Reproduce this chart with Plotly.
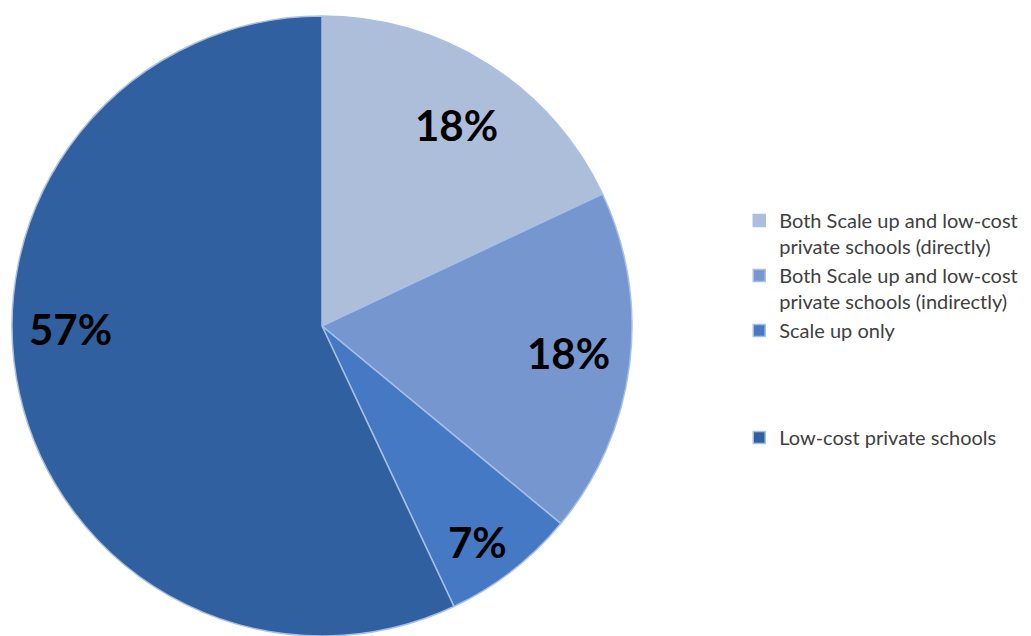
import math
import plotly.graph_objects as go

# Share of respondents by type of work
categories = [
    "Both Scale up and low-cost<br>private schools (directly)",
    "Both Scale up and low-cost<br>private schools (indirectly)",
    "Scale up only<br> <br> <br> ",
    "Low-cost private schools",
]
shares = [18, 18, 7, 57]

slice_colors = ["#adbedb", "#7596cf", "#4679c3", "#30609f"]

W, H = 1031, 636
# pie geometry in pixels
cx_px, cy_px, r_px = 322, 326, 310

dom_x = [(cx_px - r_px) / W, (cx_px + r_px) / W]
dom_y = [1 - (cy_px + r_px) / H, 1 - (cy_px - r_px) / H]

fig = go.Figure()
fig.add_trace(go.Pie(
    labels=categories,
    values=shares,
    sort=False,
    direction="clockwise",
    rotation=0,
    textinfo="none",
    hoverinfo="label+percent",
    marker=dict(colors=slice_colors, line=dict(color="#a9c0e6", width=1.5)),
    domain=dict(x=dom_x, y=dom_y),
))

# value labels placed toward the outer part of each slice
label_radius = [0.78, 0.80, 0.86, 0.81]
label_shift_deg = [1.5, -1, 2, 12]
total = sum(shares)
cum = 0
for i, v in enumerate(shares):
    mid = (cum + v / 2) / total * 360 + label_shift_deg[i]
    cum += v
    a = math.radians(mid)
    px = cx_px + label_radius[i] * r_px * math.sin(a)
    py = cy_px - label_radius[i] * r_px * math.cos(a)
    fig.add_annotation(
        x=px / W, y=1 - py / H, xref="paper", yref="paper",
        xanchor="center", yanchor="middle",
        text=f"<b>{round(v / total * 100)}%</b>",
        showarrow=False,
        font=dict(family="Lato", size=42, color="#000000"),
    )

fig.update_layout(
    width=W, height=H,
    margin=dict(l=0, r=0, t=0, b=0),
    paper_bgcolor="white",
    plot_bgcolor="white",
    showlegend=True,
    legend=dict(
        x=0.717, y=1 - 201 / H, xanchor="left", yanchor="top",
        valign="top",
        font=dict(family="Lato", size=20, color="#404040"),
        itemwidth=30,
        tracegroupgap=0,
    ),
)

fig.write_html("out.html")
